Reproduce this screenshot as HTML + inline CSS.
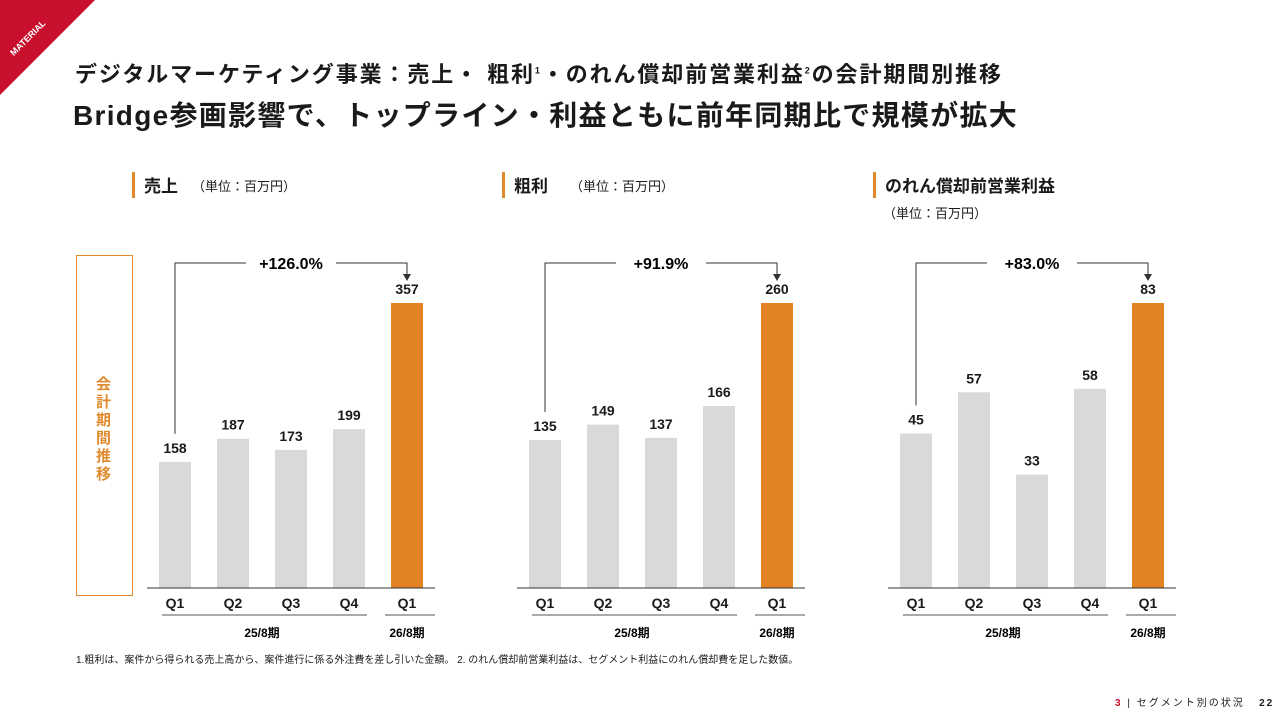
<!DOCTYPE html>
<html><head><meta charset="utf-8"><style>
body{margin:0;width:1280px;height:720px;background:#fff;position:relative;overflow:hidden;font-family:"Liberation Sans","Noto Sans CJK JP",sans-serif;color:#1a1a1a}
.a{position:absolute;white-space:nowrap}
</style></head><body>
<svg class="a" style="left:0;top:0" width="100" height="100"><polygon points="0,0 95,0 0,95" fill="#c8102e"/><text x="30" y="40" fill="#fff" font-size="9" font-weight="bold" transform="rotate(-45 30 40)" text-anchor="middle" font-family="Liberation Sans">MATERIAL</text></svg>
<div class="a" style="left:75px;top:57px;font-size:22px;letter-spacing:1.9px;font-weight:bold">デジタルマーケティング事業：売上・ 粗利<sup style="font-size:9px">1</sup>・のれん償却前営業利益<sup style="font-size:9px">2</sup>の会計期間別推移</div>
<div class="a" style="left:73px;top:94px;font-size:28px;letter-spacing:1.3px;font-weight:bold">Bridge参画影響で、トップライン・利益ともに前年同期比で規模が拡大</div>
<div class="a" style="left:76px;top:255px;width:57px;height:341px;border:1.5px solid #e08a2e;box-sizing:border-box"></div>
<div class="a" style="left:96px;top:376px;width:18px;font-size:15px;font-weight:bold;color:#e08a2e;white-space:normal;line-height:18px">会計期間推移</div>
<svg id="ch" class="a" style="left:0;top:0" width="1280" height="720"></svg>
<div class="a" style="left:76px;top:651px;font-size:10px">1.粗利は、案件から得られる売上高から、案件進行に係る外注費を差し引いた金額。 2. のれん償却前営業利益は、セグメント利益にのれん償却費を足した数値。</div>
<div class="a" style="left:1115px;top:694px;font-size:10px;letter-spacing:2px"><span style="color:#c8102e;font-weight:bold">3</span> | セグメント別の状況 &nbsp; <b>22</b></div>
<script>
const titles=["売上","粗利","のれん償却前営業利益"];
const units=["（単位：百万円）","（単位：百万円）","（単位：百万円）"];
const categories=["Q1","Q2","Q3","Q4","Q1"];
const sales=[158,187,173,199,357];
const gross=[135,149,137,166,260];
const profit=[45,57,33,58,83];
const growth=["+126.0%","+91.9%","+83.0%"];
const periods=["25/8期","26/8期"];
const series=[sales,gross,profit];
const NS="http://www.w3.org/2000/svg",svg=document.getElementById('ch');
function mk(t,a,p){const e=document.createElementNS(NS,t);for(const k in a)e.setAttribute(k,a[k]);(p||svg).appendChild(e);return e}
const offs=[159,529,900],base=588,topY=303,bw=32,step=58;
series.forEach((vals,c)=>{
 const g=mk('g',{});
 
 
 const ox=offs[c],hx=ox-27;
 const max=Math.max(...vals);const y=v=>base-(v/max)*(base-topY);
 const xb=i=>ox+i*step;
 mk('rect',{x:hx,y:172,width:3,height:26,fill:'#e08a2e'},g);
 let t=mk('text',{x:hx+12,y:192,'font-size':17,'font-weight':'bold',fill:'#1a1a1a'},g);t.textContent=titles[c];
 
 if(c<2){let u=mk('text',{x:hx+12+(c==0?48:56),y:191,'font-size':13,fill:'#1a1a1a'},g);u.textContent=units[c];}
 else{let u=mk('text',{x:hx+10,y:218,'font-size':13,fill:'#1a1a1a'},g);u.textContent=units[c];}
 vals.forEach((v,i)=>{
  const b=mk('rect',{x:xb(i),y:y(v),width:bw,height:base-y(v),fill:i==4?'#e38223':'#d9d9d9'},g);
  
  
  let l=mk('text',{x:xb(i)+bw/2,y:y(v)-9,'font-size':14,'font-weight':'bold','text-anchor':'middle',fill:'#1a1a1a'},g);l.textContent=v;
  let q=mk('text',{x:xb(i)+bw/2,y:608,'font-size':14,'font-weight':'bold','text-anchor':'middle',fill:'#1a1a1a'},g);q.textContent=categories[i];
 });
 mk('line',{x1:xb(0)-12,x2:xb(4)+bw+12,y1:base,y2:base,stroke:'#333','stroke-width':1},g);
 mk('line',{x1:xb(0)+3,x2:xb(3)+bw+2,y1:615,y2:615,stroke:'#555'},g);
 mk('line',{x1:xb(4)-6,x2:xb(4)+bw+12,y1:615,y2:615,stroke:'#555'},g);
 let p1=mk('text',{x:(xb(0)+xb(3)+bw)/2,y:637,'font-size':12,'font-weight':'bold','text-anchor':'middle'},g);p1.textContent=periods[0];
 let p2=mk('text',{x:xb(4)+bw/2,y:637,'font-size':12,'font-weight':'bold','text-anchor':'middle'},g);p2.textContent=periods[1];
 const x0=xb(0)+bw/2,x4=xb(4)+bw/2,ly=263,mid=(x0+x4)/2,gap=45;
 const ly0=y(vals[0])-28;
 mk('polyline',{points:`${x0},${ly0} ${x0},${ly} ${mid-gap},${ly}`,fill:'none',stroke:'#333'},g);
 mk('polyline',{points:`${mid+gap},${ly} ${x4},${ly} ${x4},${276}`,fill:'none',stroke:'#333'},g);
 mk('polygon',{points:`${x4-4},${274} ${x4+4},${274} ${x4},${281}`,fill:'#333'},g);
 let gt=mk('text',{x:mid,y:269,'font-size':16,'font-weight':'bold','text-anchor':'middle'},g);gt.textContent=growth[c];
 
});
</script>
</body></html>
